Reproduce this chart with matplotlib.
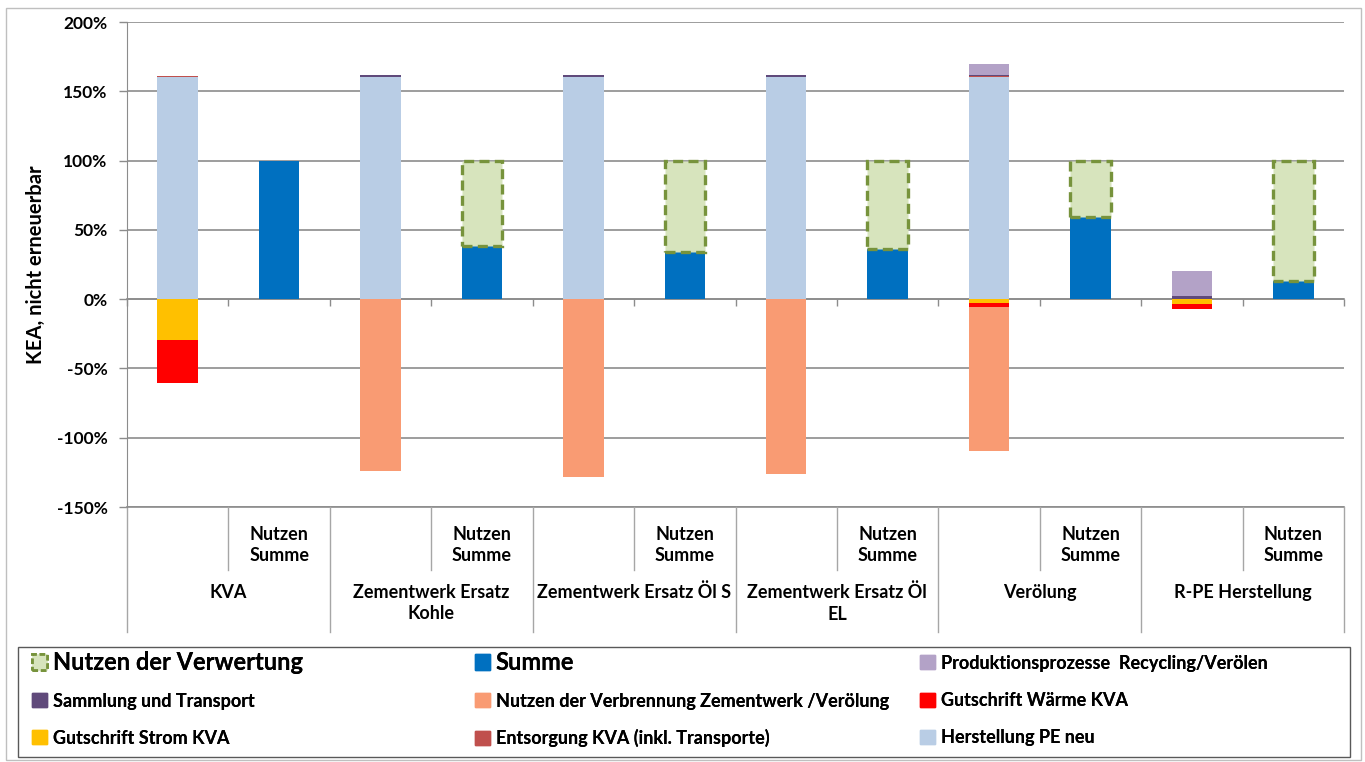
import numpy as np
import matplotlib.pyplot as plt
import matplotlib.transforms as mtransforms
from matplotlib.patches import Patch, Rectangle

plt.rcParams['font.family'] = ['Lato', 'DejaVu Sans']
plt.rcParams['font.weight'] = 'bold'

# 12 Positionen: je Gruppe ein Prozessbalken und ein Balken "Nutzen Summe"
groups = ['KVA', 'Zementwerk Ersatz\nKohle', 'Zementwerk Ersatz Öl S',
          'Zementwerk Ersatz Öl\nEL', 'Verölung', 'R-PE Herstellung']
inner = ['', 'Nutzen\nSumme'] * 6

herstellung = [160, 0, 160, 0, 160, 0, 160, 0, 160, 0, 0, 0]
entsorgung = [1, 0, 0, 0, 0, 0, 0, 0, 0.8, 0, 0, 0]
sammlung = [0, 0, 1.5, 0, 1.5, 0, 1.5, 0, 0.8, 0, 2, 0]
produktion = [0, 0, 0, 0, 0, 0, 0, 0, 8, 0, 18, 0]
strom = [-29.5, 0, 0, 0, 0, 0, 0, 0, -2.9, 0, -3.7, 0]
waerme = [-31, 0, 0, 0, 0, 0, 0, 0, -2.9, 0, -3.6, 0]
verbrennung = [0, 0, -124, 0, -128, 0, -126, 0, -103.5, 0, 0, 0]
summe = [0, 100, 0, 38, 0, 34, 0, 36, 0, 59, 0, 13]
nutzen_verwertung = [0, 0, 0, 62, 0, 66, 0, 64, 0, 41, 0, 87]

c_pe = '#B9CDE5'
c_ents = '#C0504D'
c_samm = '#604A7B'
c_prod = '#B3A2C7'
c_strom = '#FFC000'
c_waerme = '#FF0000'
c_verbr = '#F99B73'
c_summe = '#0070C0'
c_nv_fill = '#D7E4BD'
c_nv_edge = '#77933C'

fig = plt.figure(figsize=(13.65, 7.62), dpi=100)
ax = fig.add_axes([127/1365, 1 - 507/762, (1344 - 127)/1365, 485/762])

x = np.arange(12)
w = 0.4

# positive Stapel
bottom = np.zeros(12)
for vals, col in [(herstellung, c_pe), (entsorgung, c_ents), (sammlung, c_samm), (produktion, c_prod)]:
    v = np.array(vals, dtype=float)
    ax.bar(x, v, w, bottom=bottom, color=col, zorder=3)
    bottom += v
# negative Stapel
bottom = np.zeros(12)
for vals, col in [(strom, c_strom), (waerme, c_waerme), (verbrennung, c_verbr)]:
    v = np.array(vals, dtype=float)
    ax.bar(x, v, w, bottom=bottom, color=col, zorder=3)
    bottom += v

ax.bar(x, summe, w, color=c_summe, zorder=3)
nv = np.array(nutzen_verwertung, dtype=float)
m = nv > 0
ax.bar(x[m], nv[m], w, bottom=np.array(summe)[m], facecolor=c_nv_fill, edgecolor=c_nv_edge,
       linewidth=2.4, linestyle=(0, (3, 1.6)), zorder=3)

ax.set_xlim(-0.5, 11.5)
ax.set_ylim(-150, 200)
ax.set_yticks(np.arange(-150, 201, 50))
ax.set_yticklabels(['%d%%' % t for t in np.arange(-150, 201, 50)], fontsize=12.5, fontweight='bold')
ax.yaxis.grid(True, color='#8C8C8C', linewidth=1.2, zorder=0)
ax.tick_params(axis='y', length=6, color='#8C8C8C', width=1, pad=8)
ax.set_ylabel('KEA, nicht erneuerbar', fontsize=14.5, fontweight='bold', labelpad=8)

for s in ['top', 'right']:
    ax.spines[s].set_visible(False)
ax.spines['left'].set_color('#8C8C8C')
ax.spines['bottom'].set_position(('data', 0))
ax.spines['bottom'].set_color('#8C8C8C')
ax.spines['bottom'].set_linewidth(1.2)
ax.set_xticks([])
ax.set_xticks(np.arange(-0.5, 11.6, 1.0), minor=True)
ax.tick_params(axis='x', which='minor', length=5, color='#8C8C8C', width=1, direction='out')

# Kategorienbeschriftung unter der Zeichenfläche
trans = mtransforms.blended_transform_factory(ax.transData, ax.transAxes)
ax.plot([-0.5, 11.5], [0, 0], transform=trans, color='#8C8C8C', lw=1.2, clip_on=False)
for i in range(12):
    if inner[i]:
        ax.text(x[i], -0.078, inner[i], transform=trans, ha='center', va='center',
                fontsize=13, linespacing=1.3)
for b in np.arange(0.5, 11, 2):
    ax.plot([b, b], [0, -0.13], transform=trans, color='#A6A6A6', lw=1, clip_on=False)
for b in np.arange(-0.5, 11.6, 2):
    ax.plot([b, b], [0, -0.258], transform=trans, color='#A6A6A6', lw=1, clip_on=False)
for g, name in enumerate(groups):
    ax.text(2*g + 0.5, -0.158, name, transform=trans, ha='center', va='top',
            fontsize=13, linespacing=1.3)

# Rahmen
fig.add_artist(Rectangle((18/1365, 1 - 757/762), 1332/1365, 110/762, transform=fig.transFigure,
                         facecolor='none', edgecolor='#595959', lw=1))
fig.add_artist(Rectangle((6/1365, 1 - 760/762), 1355/1365, 752/762, transform=fig.transFigure,
                         facecolor='none', edgecolor='#BFBFBF', lw=1))

# Legende
items = [
    (Patch(facecolor=c_nv_fill, edgecolor=c_nv_edge, linestyle=(0, (2, 1)), linewidth=2), 'Nutzen der Verwertung', 17),
    (Patch(color=c_summe), 'Summe', 17),
    (Patch(color=c_prod), 'Produktionsprozesse  Recycling/Verölen', 13),
    (Patch(color=c_samm), 'Sammlung und Transport', 13),
    (Patch(color=c_verbr), 'Nutzen der Verbrennung Zementwerk /Verölung', 13),
    (Patch(color=c_waerme), 'Gutschrift Wärme KVA', 13),
    (Patch(color=c_strom), 'Gutschrift Strom KVA', 13),
    (Patch(color=c_ents), 'Entsorgung KVA (inkl. Transporte)', 13),
    (Patch(color=c_pe), 'Herstellung PE neu', 13),
]
col_x = [32, 475, 920]
row_y = [663, 701, 738]
for k, (h, lab, fs) in enumerate(items):
    r, c = divmod(k, 3)
    lg = fig.legend([h], [lab], loc='center left', frameon=False,
                    bbox_to_anchor=(col_x[c]/1365, 1 - row_y[r]/762),
                    prop={'size': fs, 'weight': 'bold'},
                    handlelength=11/fs, handleheight=11/fs, handletextpad=4/fs,
                    borderpad=0, borderaxespad=0)
    fig.add_artist(lg)

fig.savefig('out.png', dpi=100)
